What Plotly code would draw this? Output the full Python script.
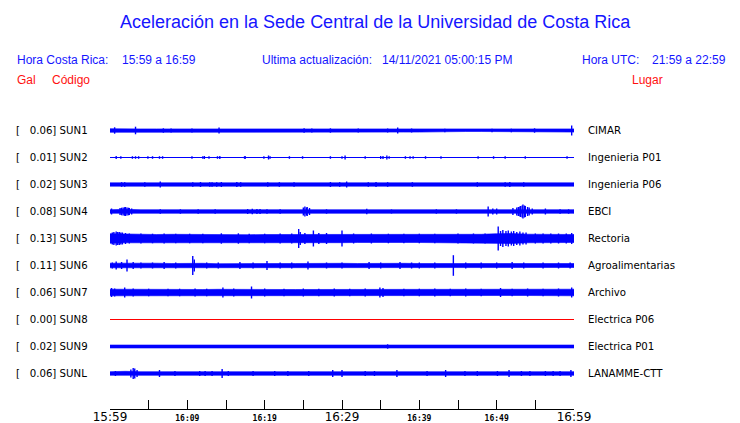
import plotly.graph_objects as go

# ---------------- data ----------------
CODES = ["SUN1", "SUN2", "SUN3", "SUN4", "SUN5", "SUN6", "SUN7", "SUN8", "SUN9", "SUNL"]
GAL = [0.06, 0.01, 0.02, 0.08, 0.13, 0.11, 0.06, 0.00, 0.02, 0.06]
PLACES = ["CIMAR", "Ingenieria P01", "Ingenieria P06", "EBCI", "Rectoria",
          "Agroalimentarias", "Archivo", "Electrica P06", "Electrica P01", "LANAMME-CTT"]
TRACE_COLORS = ["#0000ff"] * 7 + ["#ff0000"] + ["#0000ff"] * 2

TICK_MIN = [0, 5, 10, 15, 20, 25, 30, 35, 40, 45, 50, 55, 60]
TICK_TEXT = ["15:59", "", "16:09", "", "16:19", "", "16:29", "", "16:39", "", "16:49", "", "16:59"]
TICK_BIG = [True, False, False, False, False, False, True, False, False, False, False, False, True]

# envelope half-amplitudes (display units) every 2 minutes, 0..60
ENV_T = [0, 2, 4, 6, 8, 10, 12, 14, 16, 18, 20, 22, 24, 26, 28, 30, 32, 34, 36, 38, 40,
         42, 44, 46, 48, 50, 52, 54, 56, 58, 60]
SUN1_env = [1.8, 2.0, 1.6, 1.6, 1.6, 1.6, 1.6, 1.6, 1.6, 1.6, 1.6, 1.6, 1.6, 1.6, 1.6, 1.6,
            1.6, 1.6, 1.6, 1.6, 1.6, 1.6, 1.4, 1.0, 1.0, 1.0, 1.0, 1.0, 1.2, 1.4, 1.6]
SUN2_env = [0.5] * 31
SUN3_env = [1.7] * 31
SUN4_env = [1.8, 2.2, 1.8, 1.8, 1.8, 1.8, 1.8, 1.8, 1.8, 2.0, 1.9, 1.8, 1.9, 2.0, 1.8, 1.8,
            1.8, 1.8, 1.8, 1.8, 1.8, 1.8, 1.8, 1.8, 1.9, 2.0, 2.4, 2.2, 1.9, 1.8, 1.8]
SUN5_env = [4.8, 4.3, 4.0, 4.0, 4.2, 4.0, 3.8, 4.2, 4.0, 3.8, 4.0, 4.0, 4.4, 4.4, 4.2, 4.2,
            4.0, 4.2, 3.8, 4.0, 4.0, 3.8, 3.8, 4.0, 4.2, 4.8, 5.0, 4.3, 4.0, 4.0, 4.0]
SUN6_env = [2.3, 2.5, 2.2, 2.3, 2.0, 2.3, 2.2, 1.8, 2.0, 1.8, 2.2, 2.0, 2.0, 2.3, 2.0, 2.2,
            2.0, 2.2, 2.0, 2.2, 2.0, 2.0, 2.2, 2.0, 2.0, 2.2, 2.0, 2.0, 2.2, 2.0, 2.0]
SUN7_env = [3.3, 3.2, 3.0, 2.8, 2.6, 3.0, 3.0, 3.2, 3.0, 3.3, 3.0, 3.0, 3.0, 3.0, 3.0, 3.0,
            3.0, 3.2, 3.0, 3.0, 3.0, 3.0, 3.0, 3.0, 3.0, 3.0, 3.0, 3.0, 3.0, 3.0, 3.3]
SUN8_env = [0.0] * 31
SUN9_env = [1.5] * 31
SUNL_env = [1.8, 2.2, 1.8, 1.8, 1.8, 1.8, 1.8, 1.8, 1.8, 1.8, 1.8, 1.8, 1.8, 1.8, 1.8, 1.8,
            1.8, 1.8, 1.8, 1.8, 1.8, 1.8, 1.8, 1.8, 1.8, 1.8, 1.8, 1.8, 1.8, 1.8, 1.8]

# spikes: minute and half-amplitude
SUN1_spk_t = [0.6, 3.3, 6.9, 7.9, 10.6, 14.1, 25.1, 26.1, 28.5, 32.1, 35.9, 37.2, 39.0, 43.3, 49.4, 51.9, 54.9, 59.7]
SUN1_spk_a = [3.2, 3.8, 2.2, 2.0, 2.0, 3.0, 2.2, 2.0, 2.2, 2.0, 2.0, 3.0, 2.0, 1.8, 1.8, 1.8, 2.2, 5.0]
SUN2_spk_t = [0.8, 1.4, 2.9, 3.3, 3.7, 4.9, 5.5, 6.4, 6.8, 10.6, 12.0, 12.2, 12.8, 13.9, 14.2, 17.4, 17.5,
              19.9, 20.5, 20.7, 23.2, 24.9, 28.5, 30.0, 30.4, 33.0, 35.0, 35.3, 35.8, 36.1, 38.2, 38.8,
              39.2, 40.8, 42.8, 47.6, 49.6, 51.1, 53.7, 59.1]
SUN2_spk_a = [1.5, 1.3, 1.3, 1.3, 1.3, 1.3, 1.3, 1.3, 1.3, 1.3, 1.3, 1.5, 1.3, 1.3, 1.5, 1.3, 1.3,
              1.3, 2.0, 1.3, 1.3, 1.3, 1.3, 1.3, 2.0, 1.3, 1.5, 1.5, 2.0, 1.3, 1.3, 1.3,
              1.3, 1.3, 1.3, 1.3, 1.3, 1.3, 1.3, 1.3]
SUN3_spk_t = [1.5, 1.9, 4.5, 6.5, 10.7, 11.7, 12.9, 13.2, 13.8, 14.4, 16.4, 16.9, 20.4, 21.9, 23.8,
              28.5, 29.7, 30.6, 33.4, 34.4, 35.9, 39.1, 47.5, 51.1, 51.7, 53.5]
SUN3_spk_a = [2.3, 2.3, 2.3, 3.0, 2.3, 2.5, 2.3, 2.3, 2.3, 2.5, 2.5, 2.3, 2.3, 2.3, 2.3,
              2.5, 2.3, 3.0, 2.3, 2.5, 2.3, 2.3, 2.3, 2.3, 2.5, 2.3]
SUN4_spk_t = [0.2, 1.3, 1.5, 1.7, 1.9, 2.0, 2.2, 2.4, 2.5, 2.8, 6.5, 9.1, 11.4, 13.6, 17.8, 18.4, 19.0,
              19.4, 20.3, 22.0, 25.0, 25.2, 25.4, 25.5, 25.8, 28.0, 33.2, 36.4, 42.2, 44.8, 48.9,
              49.5, 50.0, 52.1, 52.6, 52.8, 53.0, 53.1, 53.3, 53.4, 53.6, 53.7, 54.0, 54.2, 54.6,
              56.3, 58.2, 59.3]
SUN4_spk_a = [3.0, 3.5, 3.8, 4.0, 4.3, 4.5, 4.0, 3.8, 3.5, 3.0, 2.2, 2.2, 2.2, 2.2, 2.5, 2.8, 2.5,
              2.5, 2.2, 2.2, 4.0, 5.0, 4.0, 4.5, 3.5, 2.2, 2.8, 2.0, 2.2, 2.2, 5.0,
              3.0, 3.0, 3.5, 4.0, 4.5, 5.0, 5.5, 6.0, 7.0, 6.0, 5.5, 4.5, 4.0, 3.0,
              3.0, 2.2, 2.2]
SUN5_spk_t = [0.3, 0.5, 0.8, 1.0, 1.2, 1.4, 1.6, 2.0, 2.5, 4.0, 5.5, 7.0, 8.5, 10.3, 12.0, 14.4, 16.6,
              18.0, 20.0, 22.0, 23.5, 24.4, 24.6, 25.2, 26.3, 27.0, 28.0, 30.0, 31.5, 33.8, 36.0,
              38.0, 40.0, 42.0, 45.0, 47.0, 48.5, 50.2, 50.5, 50.8, 51.2, 51.5, 51.9, 52.2, 52.6,
              53.0, 53.4, 53.8, 55.0, 56.0, 57.0, 58.0, 59.0, 59.7]
SUN5_spk_a = [6.0, 6.5, 7.0, 6.5, 6.5, 6.0, 6.0, 5.5, 5.0, 5.0, 4.8, 5.0, 4.8, 4.8, 4.8, 5.2, 5.2,
              4.8, 4.8, 5.0, 5.0, 9.5, 6.5, 5.5, 8.0, 5.5, 5.5, 8.0, 5.0, 5.0, 4.8,
              4.8, 4.8, 4.8, 5.0, 5.0, 5.0, 12.0, 7.5, 8.5, 7.5, 8.0, 7.0, 7.5, 6.5,
              7.0, 6.0, 6.0, 5.0, 5.0, 5.0, 5.0, 5.0, 5.5]
SUN6_spk_t = [0.3, 0.8, 1.5, 2.2, 3.0, 4.0, 5.5, 7.0, 8.5, 10.7, 10.9, 12.5, 14.0, 16.8, 18.5, 20.3,
              22.0, 23.5, 25.6, 28.0, 30.0, 33.5, 35.0, 37.5, 39.0, 40.0, 42.0, 44.4, 46.0, 48.0,
              50.0, 52.0, 53.5, 56.0, 58.0, 59.5]
SUN6_spk_a = [3.0, 4.0, 3.5, 6.0, 3.5, 3.0, 3.0, 3.5, 3.0, 9.5, 6.0, 3.0, 3.0, 3.5, 3.0, 4.5,
              3.0, 3.0, 4.0, 3.0, 3.0, 3.5, 3.0, 3.5, 3.0, 3.0, 3.0, 10.3, 3.0, 3.0,
              3.0, 3.5, 3.0, 3.0, 3.0, 3.0]
SUN7_spk_t = [0.2, 0.6, 1.9, 3.0, 5.0, 7.5, 9.0, 11.0, 12.5, 14.6, 16.0, 18.3, 20.0, 22.5, 25.0,
              27.0, 29.0, 31.0, 33.0, 34.9, 35.3, 38.0, 40.0, 42.0, 44.0, 46.0, 48.0, 50.5, 52.0,
              54.0, 56.0, 58.0, 59.7]
SUN7_spk_a = [4.5, 4.0, 5.0, 4.0, 3.8, 3.8, 3.8, 4.0, 3.8, 5.0, 4.0, 6.0, 4.0, 3.8, 4.0,
              3.8, 4.0, 3.8, 4.0, 5.0, 4.5, 3.8, 3.8, 4.0, 3.8, 4.0, 3.8, 4.5, 3.8,
              4.0, 3.8, 4.0, 5.0]
SUN8_spk_t = []
SUN8_spk_a = []
SUN9_spk_t = [35.9]
SUN9_spk_a = [2.2]
SUNL_spk_t = [0.7, 2.7, 3.0, 3.2, 3.5, 6.4, 8.4, 11.6, 12.3, 13.2, 14.5, 15.3, 18.5, 21.3, 23.0, 25.7,
              28.8, 30.0, 33.0, 34.2, 37.1, 41.0, 43.4, 45.9, 47.5, 50.1, 51.6, 53.2, 54.3, 56.3,
              57.3, 58.2, 59.6]
SUNL_spk_a = [2.5, 4.0, 5.5, 5.0, 3.5, 3.5, 2.5, 2.5, 2.5, 2.5, 4.5, 2.5, 2.5, 2.5, 2.5, 2.5,
              3.5, 3.5, 2.5, 2.5, 3.5, 2.5, 3.5, 2.5, 2.5, 2.5, 3.5, 2.5, 2.5, 2.5,
              2.5, 2.5, 3.5]

ENVS = [SUN1_env, SUN2_env, SUN3_env, SUN4_env, SUN5_env, SUN6_env, SUN7_env, SUN8_env, SUN9_env, SUNL_env]
SPK_T = [SUN1_spk_t, SUN2_spk_t, SUN3_spk_t, SUN4_spk_t, SUN5_spk_t, SUN6_spk_t, SUN7_spk_t,
         SUN8_spk_t, SUN9_spk_t, SUNL_spk_t]
SPK_A = [SUN1_spk_a, SUN2_spk_a, SUN3_spk_a, SUN4_spk_a, SUN5_spk_a, SUN6_spk_a, SUN7_spk_a,
         SUN8_spk_a, SUN9_spk_a, SUNL_spk_a]

# ---------------- layout geometry ----------------
W, H = 740, 423
ML, MR, MT, MB = 110, 166, 115, 14
PW = W - ML - MR
PH = H - MT - MB
ROW_TOP = PH - (130.5 - MT)   # centre of first row in y units
ROW_STEP = 27


def px(x):
    return (x - ML) / PW


def py(y):
    return (H - MB - y) / PH


fig = go.Figure()

for i, code in enumerate(CODES):
    c = ROW_TOP - ROW_STEP * i
    col = TRACE_COLORS[i]
    env = ENVS[i]
    if max(env) > 0.6:
        xs = ENV_T + ENV_T[::-1]
        ys = [c + a for a in env] + [c - a for a in env[::-1]]
        fig.add_trace(go.Scatter(x=xs, y=ys, fill="toself", fillcolor=col, mode="lines",
                                 line=dict(color=col, width=0.6), hoverinfo="skip", showlegend=False))
    fig.add_trace(go.Scatter(x=[ENV_T[0], ENV_T[-1]], y=[c, c], mode="lines",
                             line=dict(color=col, width=1.0), hoverinfo="skip", showlegend=False))
    sx, sy = [], []
    for t, a in zip(SPK_T[i], SPK_A[i]):
        sx += [t, t, None]
        sy += [c - a, c + a, None]
    if sx:
        fig.add_trace(go.Scatter(x=sx, y=sy, mode="lines", line=dict(color=col, width=1.4),
                                 hoverinfo="skip", showlegend=False))

ann = []
LAB_FONT = dict(family="DejaVu Sans", size=10.2, color="black")
for i, code in enumerate(CODES):
    c = ROW_TOP - ROW_STEP * i
    ann.append(dict(x=px(14), y=c, xref="paper", yref="y", xanchor="left", yanchor="middle",
                    text="[\u00a0\u00a0 %.2f] %s" % (GAL[i], code), showarrow=False, font=LAB_FONT))
    ann.append(dict(x=px(586), y=c, xref="paper", yref="y", xanchor="left", yanchor="middle",
                    text=PLACES[i], showarrow=False, font=LAB_FONT))

BLUE = "#1515ff"
RED = "#ff1010"
HF = dict(family="Liberation Sans", size=12, color=BLUE)
HR = dict(family="Liberation Sans", size=12, color=RED)
header = [
    (15, 60, "Hora Costa Rica:", HF),
    (120, 60, "15:59 a 16:59", HF),
    (260, 60, "Ultima actualización:", HF),
    (380, 60, "14/11/2021 05:00:15 PM", HF),
    (580, 60, "Hora UTC:", HF),
    (650, 60, "21:59 a 22:59", HF),
    (15, 80, "Gal", HR),
    (50, 80, "Código", HR),
    (630, 80, "Lugar", HR),
]
for x, y, t, f in header:
    ann.append(dict(x=px(x), y=py(y), xref="paper", yref="paper", xanchor="left", yanchor="middle",
                    text=t, showarrow=False, font=f))

ann.append(dict(x=px(375), y=py(22), xref="paper", yref="paper", xanchor="center", yanchor="middle",
                text="Aceleración en la Sede Central de la Universidad de Costa Rica", showarrow=False,
                font=dict(family="Liberation Sans", size=18, color=BLUE)))

ticktext = []
for t, big in zip(TICK_TEXT, TICK_BIG):
    if t == "" or big:
        ticktext.append(t)
    else:
        ticktext.append('<span style="font-family:DejaVu Sans Mono;font-size:8px"><b>%s</b></span>' % t)

fig.update_layout(
    width=W, height=H,
    margin=dict(l=ML, r=MR, t=MT, b=MB, autoexpand=False),
    paper_bgcolor="white", plot_bgcolor="white",
    showlegend=False,
    annotations=ann,
    xaxis=dict(range=[0, 60], showgrid=False, zeroline=False, showline=True, linecolor="black",
               linewidth=1, ticks="inside", ticklen=9, tickcolor="black", tickwidth=1,
               tickvals=TICK_MIN, ticktext=ticktext, tickangle=0, automargin=False,
               ticklabelstandoff=-3,
               tickfont=dict(family="DejaVu Sans", size=12, color="black")),
    yaxis=dict(range=[0, PH], visible=False, fixedrange=True),
)

fig.write_html("out.html", config={"displayModeBar": False},
               post_script="document.body.style.margin='0';document.body.style.overflow='hidden';")
